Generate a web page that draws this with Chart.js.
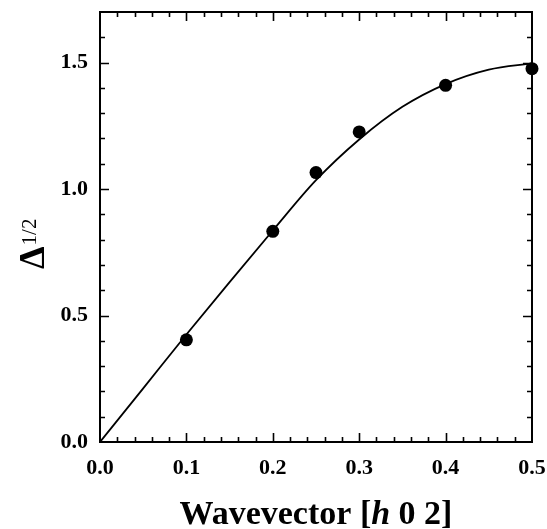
<!DOCTYPE html>
<html>
<head>
<meta charset="utf-8">
<script src="https://cdn.jsdelivr.net/npm/chart.js@4"></script>
<style>
  html, body { margin: 0; padding: 0; background: #ffffff; }
  #wrap { width: 547px; height: 529px; position: relative; }
</style>
</head>
<body>
<div id="wrap"><canvas id="c" width="547" height="529"></canvas></div>
<script>
// ---- data ----
const pointH = [0.1, 0.2, 0.25, 0.3, 0.4, 0.5];
const pointVals = [0.404, 0.833, 1.065, 1.226, 1.41, 1.476];

const curveH = [0, 0.05, 0.1, 0.15, 0.2, 0.25, 0.3, 0.35, 0.4, 0.45, 0.5];
const curveVals = [0, 0.212, 0.425, 0.632, 0.836, 1.035, 1.196, 1.325, 1.415, 1.472, 1.497];

const xTickVals = [0, 0.1, 0.2, 0.3, 0.4, 0.5];
const yTickVals = [0, 0.5, 1.0, 1.5];
const xLabel = ['Wavevector [', 'h', ' 0 2]'];
const yLabel = ['\u0394', '1/2'];

const SERIF = '"Liberation Serif", "DejaVu Serif", serif';

const framePlugin = {
  id: 'frameTicks',
  afterDatasetsDraw(chart) {
    const ctx = chart.ctx;
    const xs = chart.scales.x, ys = chart.scales.y;
    const a = chart.chartArea;
    ctx.save();
    ctx.strokeStyle = '#000';
    ctx.lineWidth = 2;
    ctx.strokeRect(a.left, a.top, a.right - a.left, a.bottom - a.top);
    ctx.lineWidth = 1.6;
    ctx.beginPath();
    for (let i = 1; i < 25; i++) {
      const v = i * 0.02;
      const px = Math.round(xs.getPixelForValue(v)) + 0.5;
      const len = (i % 5 === 0) ? 9 : 5;
      ctx.moveTo(px, a.bottom); ctx.lineTo(px, a.bottom - len);
      ctx.moveTo(px, a.top); ctx.lineTo(px, a.top + len);
    }
    for (let i = 1; i < 17; i++) {
      const v = i * 0.1;
      const py = Math.round(ys.getPixelForValue(v)) + 0.5;
      const len = (i % 5 === 0) ? 9 : 5;
      ctx.moveTo(a.left, py); ctx.lineTo(a.left + len, py);
      ctx.moveTo(a.right, py); ctx.lineTo(a.right - len, py);
    }
    ctx.stroke();
    ctx.restore();
  },
  afterDraw(chart) {
    const ctx = chart.ctx;
    const a = chart.chartArea;
    ctx.save();
    ctx.fillStyle = '#000';
    ctx.textBaseline = 'alphabetic';
    const fB = 'bold 34px ' + SERIF;
    const fI = 'italic bold 34px ' + SERIF;
    ctx.font = fB; const w0 = ctx.measureText(xLabel[0]).width;
    ctx.font = fI; const w1 = ctx.measureText(xLabel[1]).width;
    ctx.font = fB; const w2 = ctx.measureText(xLabel[2]).width;
    const cx = (a.left + a.right) / 2;
    let x = cx - (w0 + w1 + w2) / 2;
    const by = 524;
    ctx.font = fB; ctx.fillText(xLabel[0], x, by); x += w0;
    ctx.font = fI; ctx.fillText(xLabel[1], x, by); x += w1;
    ctx.font = fB; ctx.fillText(xLabel[2], x, by);
    ctx.translate(44, 269);
    ctx.rotate(-Math.PI / 2);
    ctx.font = 'bold 36px ' + SERIF;
    const dw = ctx.measureText(yLabel[0]).width;
    ctx.fillText(yLabel[0], 0, 0);
    ctx.font = '21px ' + SERIF;
    ctx.fillText(yLabel[1], dw + 1, -8);
    ctx.restore();
  }
};

new Chart(document.getElementById('c'), {
  type: 'scatter',
  data: {
    datasets: [
      {
        type: 'scatter',
        label: 'data',
        data: pointH.map((h, i) => ({ x: h, y: pointVals[i] })),
        pointRadius: 6.5,
        pointHoverRadius: 6.5,
        backgroundColor: '#000',
        borderColor: '#000',
        borderWidth: 0,
        clip: false,
        order: 0
      },
      {
        type: 'line',
        label: 'fit',
        data: curveH.map((h, i) => ({ x: h, y: curveVals[i] })),
        borderColor: '#000',
        borderWidth: 1.8,
        pointRadius: 0,
        fill: false,
        cubicInterpolationMode: 'monotone',
        order: 1
      }
    ]
  },
  options: {
    responsive: false,
    animation: false,
    events: [],
    layout: { padding: { top: 12, right: 15, left: 0, bottom: 0 } },
    plugins: { legend: { display: false }, tooltip: { enabled: false } },
    scales: {
      x: {
        type: 'linear',
        min: 0, max: 0.5,
        afterFit(s) { s.height = 87; s.paddingLeft = 0; s.paddingRight = 0; },
        afterBuildTicks(s) { s.ticks = xTickVals.map(v => ({ value: v })); },
        grid: { display: false, drawTicks: false },
        border: { display: false },
        ticks: {
          padding: 13,
          color: '#000',
          font: { family: SERIF, size: 22, weight: 'bold' },
          maxRotation: 0,
          callback: v => Number(v).toFixed(1)
        }
      },
      y: {
        type: 'linear',
        min: 0, max: 1.7,
        afterFit(s) { s.width = 100; s.paddingTop = 0; s.paddingBottom = 0; },
        afterBuildTicks(s) { s.ticks = yTickVals.map(v => ({ value: v })); },
        grid: { display: false, drawTicks: false },
        border: { display: false },
        ticks: {
          padding: 12,
          color: '#000',
          font: { family: SERIF, size: 22, weight: 'bold' },
          callback: v => Number(v).toFixed(1)
        }
      }
    }
  },
  plugins: [framePlugin]
});
</script>
</body>
</html>
